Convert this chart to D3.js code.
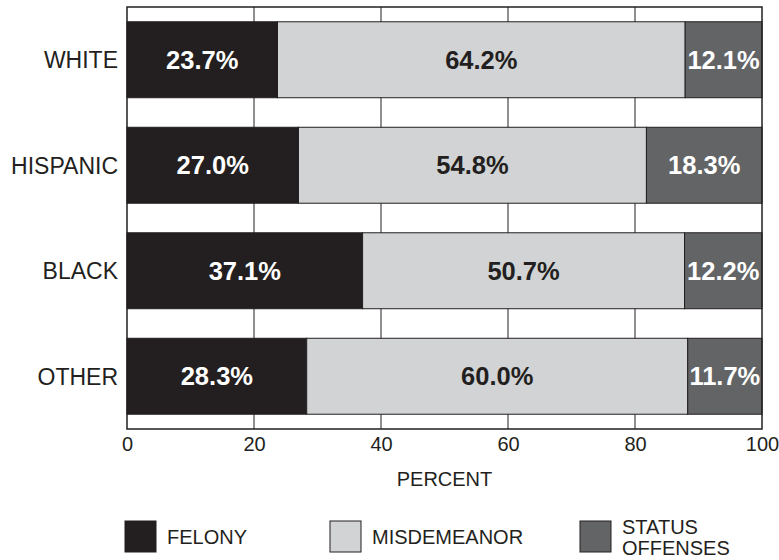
<!DOCTYPE html>
<html><head><meta charset="utf-8">
<script src="https://cdn.jsdelivr.net/npm/d3@7"></script>
<style>body{margin:0;background:#fff}svg{display:block}text{font-family:"Liberation Sans",Arial,sans-serif}</style>
</head><body><svg id="c" width="779" height="560"></svg>
<script>
const categories = ["WHITE","HISPANIC","BLACK","OTHER"];
const felony = [23.7, 27.0, 37.1, 28.3];
const misdemeanor = [64.2, 54.8, 50.7, 60.0];
const statusOffenses = [12.1, 18.3, 12.2, 11.7];
const seriesNames = ["FELONY","MISDEMEANOR","STATUS OFFENSES"];
const xTicks = [0,20,40,60,80,100];

const colors = ["#231f20","#d1d3d4","#636466"];
const labelColors = ["#ffffff","#231f20","#ffffff"];

const svg = d3.select("#c");
const m = {l:127, r:762, t:7, b:429};
const x = d3.scaleLinear().domain([0,100]).range([m.l, m.r]);
const y = d3.scaleBand().domain(categories).range([m.t, m.b]).paddingInner(0.28).paddingOuter(0.14);

// grid
svg.append("g").selectAll("line").data(xTicks.slice(1,-1)).join("line")
  .attr("x1", d=>x(d)).attr("x2", d=>x(d)).attr("y1", m.t).attr("y2", m.b)
  .attr("stroke","#231f20").attr("stroke-width",1);

const data = categories.map((c,i)=>({cat:c, vals:[felony[i], misdemeanor[i], statusOffenses[i]]}));
const segs = [];
data.forEach(d=>{ let acc=0; d.vals.forEach((v,j)=>{ segs.push({cat:d.cat, j, v, x0:acc, x1:Math.min(100,acc+v)}); acc+=v; }); });

svg.append("g").selectAll("rect").data(segs).join("rect")
  .attr("x", d=>x(d.x0)).attr("width", d=>x(d.x1)-x(d.x0))
  .attr("y", d=>y(d.cat)).attr("height", y.bandwidth())
  .attr("fill", d=>colors[d.j]).attr("stroke","#231f20").attr("stroke-width",1);

svg.append("g").selectAll("text").data(segs).join("text")
  .attr("x", d=>(x(d.x0)+x(d.x1))/2).attr("y", d=>y(d.cat)+y.bandwidth()/2)
  .attr("dy","0.36em").attr("text-anchor","middle")
  .attr("font-size", 25.5).attr("font-weight","bold")
  .attr("fill", d=>labelColors[d.j])
  .text(d=>d.v.toFixed(1)+"%");

// frame
svg.append("rect").attr("x", m.l).attr("y", m.t).attr("width", m.r-m.l).attr("height", m.b-m.t)
  .attr("fill","none").attr("stroke","#231f20").attr("stroke-width",1.5);

// category labels
svg.append("g").selectAll("text").data(categories).join("text")
  .attr("x", 118).attr("y", d=>y(d)+y.bandwidth()/2).attr("dy","0.36em")
  .attr("text-anchor","end").attr("font-size",23).attr("fill","#231f20").text(d=>d);

// x axis
const xa = svg.append("g").attr("transform",`translate(0,${m.b})`)
  .call(d3.axisBottom(x).tickValues(xTicks).tickSize(0).tickPadding(8).tickFormat(d3.format("d")));
xa.select(".domain").remove();
xa.selectAll("text").attr("font-size",20).attr("fill","#231f20").style("font-family","'Liberation Sans',Arial,sans-serif");

svg.append("text").attr("x", x(50)).attr("y", 486).attr("text-anchor","middle")
  .attr("font-size",20).attr("fill","#231f20").text("PERCENT");

// legend
const legX = [125, 330, 580];
const lg = svg.append("g").selectAll("g").data(seriesNames).join("g")
  .attr("transform",(d,i)=>`translate(${legX[i]},521)`);
lg.append("rect").attr("width",31).attr("height",31).attr("fill",(d,i)=>colors[i]).attr("stroke","#231f20").attr("stroke-width",1);
lg.each(function(d,i){
  const g = d3.select(this);
  const words = d.split(" ");
  const t = g.append("text").attr("x",42).attr("font-size",20).attr("fill","#231f20");
  if (words.length===1) { t.attr("y",15.5).attr("dy","0.36em").text(d); }
  else { words.forEach((w,k)=>t.append("tspan").attr("x",42).attr("y",5.5+k*21).attr("dy","0.36em").text(w)); }
});
</script></body></html>
